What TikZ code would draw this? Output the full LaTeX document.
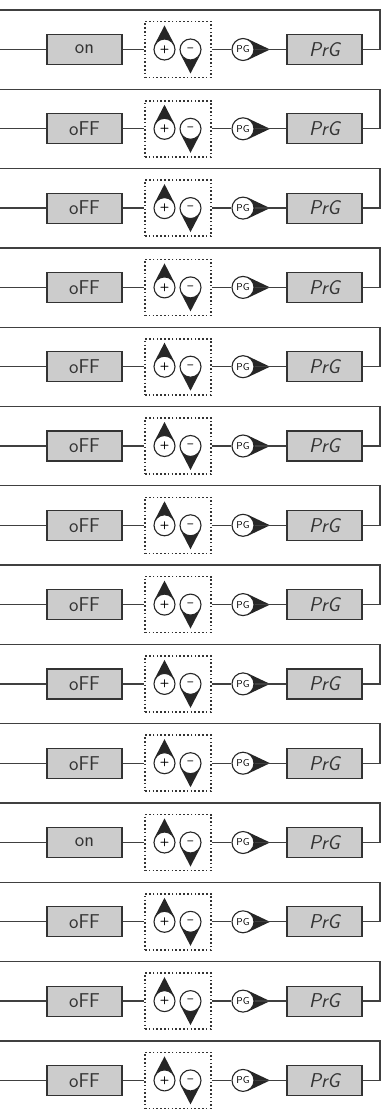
\documentclass[tikz,border=0pt]{standalone}
\usepackage{tikz}
\usetikzlibrary{backgrounds}

\tikzset{
  display/.style={draw=black!80,fill=gray!40,line width=1.2pt,minimum width=75pt,
    minimum height=30pt,inner sep=0pt,text=black!80,
    font=\fontsize{20}{20}\selectfont\sffamily},
  keypad/.style={draw=black!80,dash pattern=on 1.6pt off 2.2pt,line width=1.6pt,
    minimum width=66pt,minimum height=56pt,inner sep=0pt},
  keyring/.style={circle,draw=black!85,fill=white,line width=1.1pt,minimum size=21pt,
    inner sep=0pt,font=\fontsize{11}{11}\selectfont\sffamily\bfseries},
  wire/.style={black!75,line width=1.3pt}
}

\begin{document}
\begin{tikzpicture}[x=1pt,y=-1pt]
  \useasboundingbox (0,0) rectangle (383,1110);
  \foreach \i/\lbl in {0/on,1/oFF,2/oFF,3/oFF,4/oFF,5/oFF,6/oFF,
                       7/oFF,8/oFF,9/oFF,10/on,11/oFF,12/oFF,13/oFF} {
    \pgfmathsetmacro\off{79.3*\i}
    \coordinate (in\i) at (0,49.5+\off);
    \coordinate (top\i) at (0,10+\off);
    \coordinate (turn\i) at (380,10+\off);
    \node[display] (state\i) at (84.5,49.5+\off) {\lbl};
    \node[keypad] (keys\i) at (178,49.5+\off) {};
    \node[keyring] (plus\i) at (164.5,49.5+\off) {+};
    \node[keyring] (minus\i) at (190.5,49.5+\off) {--};
    \node[keyring,minimum size=22pt,font=\fontsize{10}{10}\selectfont\sffamily] (pg\i) at (243,49.5+\off) {PG};
    \node[display,font=\fontsize{20}{20}\selectfont\sffamily\slshape] (prg\i) at (324.5,49.5+\off) {PrG};
    \begin{scope}[on background layer]
      \fill[black!85] (plus\i.154) -- ([yshift=24pt]plus\i.center) -- (plus\i.26) -- cycle;
      \fill[black!85] (minus\i.206) -- ([yshift=-24pt]minus\i.center) -- (minus\i.334) -- cycle;
      \fill[black!85] (pg\i.64) -- ([xshift=27pt]pg\i.center) -- (pg\i.-64) -- cycle;
    \end{scope}
    \draw[wire] (in\i) -- (state\i);
    \draw[wire] (state\i) -- (keys\i);
    \draw[wire] (keys\i) -- (pg\i);
    \draw[wire] (pg\i) -- (prg\i);
    \draw[wire] (prg\i.east) -| (turn\i) -- (top\i);
  }
\end{tikzpicture}
\end{document}
